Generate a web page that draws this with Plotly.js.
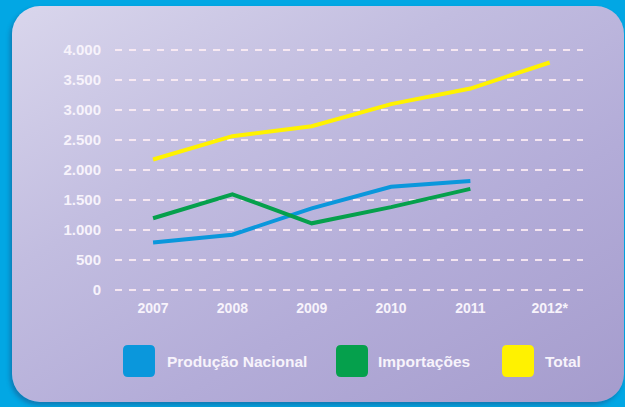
<!DOCTYPE html>
<html>
<head>
<meta charset="utf-8">
<script src="https://cdn.plot.ly/plotly-3.0.1.min.js"></script>
<style>
  html, body { margin: 0; padding: 0; }
  body { width: 625px; height: 407px; background: #02a7e4; position: relative; overflow: hidden; }
  #panel {
    position: absolute; left: 12px; top: 6px; width: 612px; height: 396px;
    border-radius: 28px;
    background: linear-gradient(150deg, #d9d6ec 0%, #c2bde0 35%, #b3acd8 65%, #a59ccd 100%);
    box-shadow: -2px 3px 4px rgba(40,40,90,0.35);
  }
  #chart { position: absolute; left: 0; top: 0; width: 625px; height: 407px; }
</style>
</head>
<body>
<div id="panel"></div>
<div id="chart"></div>
<script>
const years = ['2007', '2008', '2009', '2010', '2011', '2012*'];
const producaoNacional = [790, 920, 1360, 1720, 1815];
const importacoes = [1195, 1595, 1110, 1380, 1685];
const total = [2175, 2565, 2730, 3100, 3360, 3795];
const seriesNames = ['Produção Nacional', 'Importações', 'Total'];
const seriesColors = ['#0a97dc', '#05a04c', '#fff200'];
const yTickVals = [0, 500, 1000, 1500, 2000, 2500, 3000, 3500, 4000];
const yTickText = ['0', '500', '1.000', '1.500', '2.000', '2.500', '3.000', '3.500', '4.000'];

const FONT = '"Liberation Sans", Arial, sans-serif';
const seriesData = [producaoNacional, importacoes, total];

const traces = seriesData.map((vals, i) => ({
  type: 'scatter',
  mode: 'lines',
  name: seriesNames[i],
  x: years.slice(0, vals.length),
  y: vals,
  line: { color: seriesColors[i], width: 4 },
  showlegend: false,
  hoverinfo: 'skip'
}));

// plot area in pixels (y range slightly padded so the 0 and 4.000 gridlines are drawn)
const L = 115, R = 583, T = 49, B = 291;
const Y0 = -20, Y1 = 4020;
const px = x => (x - L) / (R - L);
const py = y => (B - y) / (B - T);
const legendX = [139, 352, 518];
const legendTextX = [165, 376, 543];
const legendY = 361;
const s = 16, r = 5;
const roundedPath = `M ${-s + r} ${-s} L ${s - r} ${-s} Q ${s} ${-s} ${s} ${-s + r} L ${s} ${s - r} Q ${s} ${s} ${s - r} ${s} L ${-s + r} ${s} Q ${-s} ${s} ${-s} ${s - r} L ${-s} ${-s + r} Q ${-s} ${-s} ${-s + r} ${-s} Z`;

const shapes = seriesNames.map((n, i) => ({
  type: 'path',
  xref: 'paper', yref: 'paper',
  xsizemode: 'pixel', ysizemode: 'pixel',
  xanchor: px(legendX[i]), yanchor: py(legendY),
  path: roundedPath,
  fillcolor: seriesColors[i],
  line: { width: 0 }
}));

const annotations = seriesNames.map((n, i) => ({
  xref: 'paper', yref: 'paper',
  x: px(legendTextX[i]), y: py(legendY),
  xanchor: 'left', yanchor: 'middle',
  text: n, showarrow: false,
  font: { family: FONT, size: 15.5, color: '#f7f3fb', weight: 'bold' }
}));

const layout = {
  width: 625, height: 407,
  paper_bgcolor: 'rgba(0,0,0,0)',
  plot_bgcolor: 'rgba(0,0,0,0)',
  margin: { l: L, r: 625 - R, t: T, b: 407 - B, pad: 0 },
  showlegend: false,
  xaxis: {
    type: 'category',
    range: [-0.48, 5.42],
    showgrid: false, zeroline: false, showline: false,
    ticks: 'outside', ticklen: 4, tickcolor: 'rgba(0,0,0,0)',
    tickfont: { family: FONT, size: 14, color: '#f7f3fb', weight: 'bold' },
    fixedrange: true
  },
  yaxis: {
    range: [Y0, Y1],
    tickvals: yTickVals, ticktext: yTickText,
    showgrid: true, gridcolor: 'rgba(255,238,245,0.85)', gridwidth: 1.5, griddash: '7px,7px',
    zeroline: false, showline: false,
    ticks: 'outside', ticklen: 10, tickcolor: 'rgba(0,0,0,0)',
    tickfont: { family: FONT, size: 15, color: '#f7f3fb', weight: 'bold' },
    fixedrange: true
  },
  shapes: shapes,
  annotations: annotations
};

Plotly.newPlot('chart', traces, layout, { displayModeBar: false, staticPlot: true });
</script>
</body>
</html>
